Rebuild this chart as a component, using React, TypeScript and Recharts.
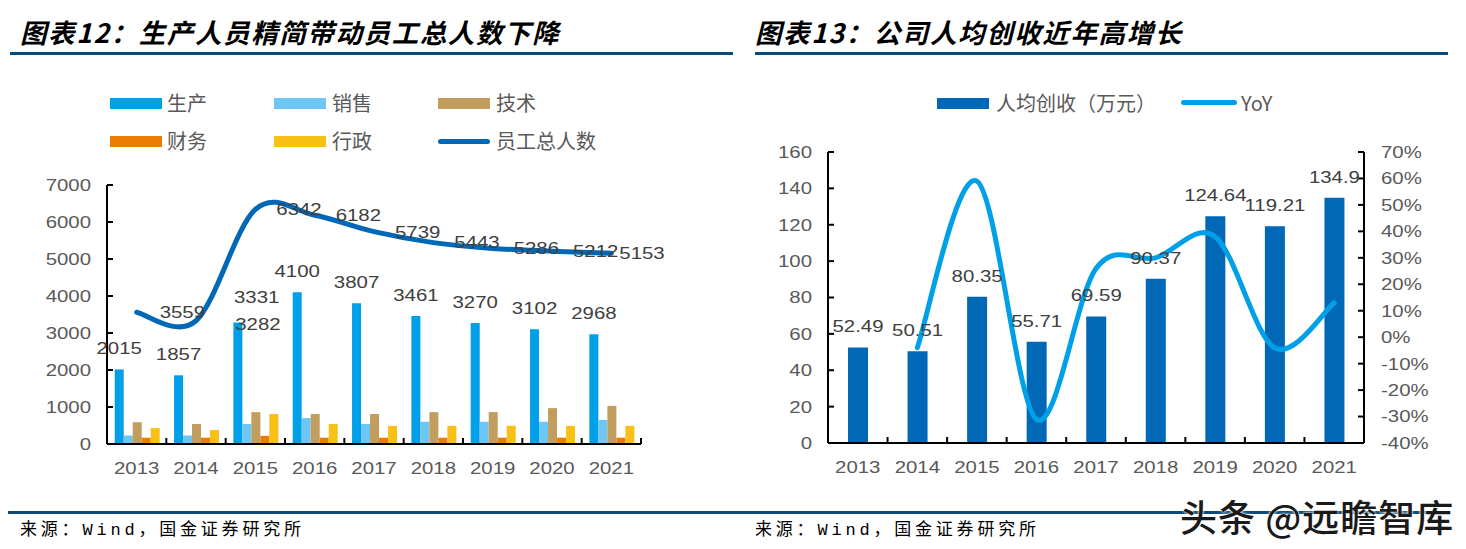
import React from "react";
import {
  ComposedChart,
  Bar,
  Line,
  XAxis,
  YAxis,
  LabelList,
} from "recharts";

// ---- data ----
const YEARS = ["2013", "2014", "2015", "2016", "2017", "2018", "2019", "2020", "2021"];

const STAFF_PROD = [2015, 1857, 3282, 4100, 3807, 3461, 3270, 3102, 2968];
const STAFF_SALES = [230, 230, 540, 700, 540, 600, 600, 600, 650];
const STAFF_TECH = [590, 540, 860, 810, 810, 860, 860, 970, 1030];
const STAFF_FIN = [170, 170, 220, 170, 170, 170, 170, 170, 170];
const STAFF_ADMIN = [430, 380, 810, 540, 490, 490, 490, 490, 490];
const STAFF_TOTAL = [3559, 3331, 6342, 6182, 5739, 5443, 5286, 5212, 5153];

const REV_PER_HEAD = [52.49, 50.51, 80.35, 55.71, 69.59, 90.37, 124.64, 119.21, 134.9];
const REV_YOY = [null, -4, 59, -31, 26, 30, 38, -4, 13];

const LEFT_TICKS = [0, 1000, 2000, 3000, 4000, 5000, 6000, 7000];
const REV_TICKS = [0, 20, 40, 60, 80, 100, 120, 140, 160];
const YOY_TICKS = [-40, -30, -20, -10, 0, 10, 20, 30, 40, 50, 60, 70];

const STAFF_SERIES = [
  { key: "prod", name: "生产", color: "#00a0e9" },
  { key: "sales", name: "销售", color: "#6ec6f5" },
  { key: "tech", name: "技术", color: "#c19d5e" },
  { key: "fin", name: "财务", color: "#ea7c04" },
  { key: "admin", name: "行政", color: "#f9c016" },
];
const TOTAL_NAME = "员工总人数";
const REV_NAME = "人均创收（万元）";
const YOY_NAME = "YoY";

const TITLE_L = "图表12：生产人员精简带动员工总人数下降";
const TITLE_R = "图表13：公司人均创收近年高增长";
const SOURCE = "来源：Wind，国金证券研究所";

// ---- style ----
const NAVY = "#0d4a78";
const DARK_BLUE = "#0068b7";
const LIGHT_BLUE = "#00a0e9";
const TICK_COLOR = "#595959";
const LABEL_COLOR = "#404040";
const CJK = "'Noto Sans CJK SC', 'Noto Sans', sans-serif";
const NUM = "'Liberation Sans', Arial, sans-serif";

// excel-ish smoothed line (cardinal bezier, 1/6 tangents)
const excelCurve = (context: any) => {
  let pts: number[][] = [];
  return {
    areaStart() {},
    areaEnd() {},
    lineStart() {
      pts = [];
    },
    point(x: number, y: number) {
      pts.push([+x, +y]);
    },
    lineEnd() {
      const n = pts.length;
      if (!n) return;
      context.moveTo(pts[0][0], pts[0][1]);
      const t = 1 / 6;
      for (let i = 0; i < n - 1; i++) {
        const p0 = pts[Math.max(0, i - 1)];
        const p1 = pts[i];
        const p2 = pts[i + 1];
        const p3 = pts[Math.min(n - 1, i + 2)];
        context.bezierCurveTo(
          p1[0] + (p2[0] - p0[0]) * t,
          p1[1] + (p2[1] - p0[1]) * t,
          p2[0] - (p3[0] - p1[0]) * t,
          p2[1] - (p3[1] - p1[1]) * t,
          p2[0],
          p2[1]
        );
      }
    },
  };
};

// numbers in the source look horizontally stretched
function WText({ x, y, children, anchor = "middle", fill = LABEL_COLOR, size = 17 }: any) {
  return (
    <text
      transform={`translate(${x},${y}) scale(1.2,1)`}
      textAnchor={anchor}
      dominantBaseline="central"
      fontFamily={NUM}
      fontSize={size}
      fill={fill}
    >
      {children}
    </text>
  );
}

function XTick(props: any) {
  const { x, y, payload, index } = props;
  const half = payload.offset ?? 30;
  return (
    <g>
      <line x1={x - half} x2={x - half} y1={y} y2={y - 6} stroke="#000" strokeWidth={2} />
      {index === YEARS.length - 1 && (
        <line x1={x + half} x2={x + half} y1={y} y2={y - 6} stroke="#000" strokeWidth={2} />
      )}
      <WText x={x} y={y + 24} fill={TICK_COLOR}>
        {payload.value}
      </WText>
    </g>
  );
}

function YTickLeft(props: any) {
  const { x, y, payload } = props;
  return (
    <g>
      <line x1={x} x2={x + 6} y1={y} y2={y} stroke="#000" strokeWidth={2} />
      <WText x={x - 16} y={y} anchor="end" fill={TICK_COLOR}>
        {payload.value}
      </WText>
    </g>
  );
}

function YTickRight(props: any) {
  const { x, y, payload } = props;
  return (
    <g>
      <line x1={x} x2={x - 6} y1={y} y2={y} stroke="#000" strokeWidth={2} />
      <WText x={x + 17} y={y} anchor="start" fill={TICK_COLOR}>
        {payload.value}%
      </WText>
    </g>
  );
}

// manual nudges for a few labels that were dragged in the source
const PROD_LABEL_NUDGE: Record<number, number[]> = { 2: [20, 23] };
const TOTAL_LABEL_NUDGE: Record<number, number[]> = { 0: [23, 0], 1: [38, -24], 8: [8, 0] };

const prodLabel = (p: any) => {
  const [dx, dy] = PROD_LABEL_NUDGE[p.index] ?? [0, 0];
  return (
    <WText key={`pl-${p.index}`} x={p.x + p.width / 2 + dx} y={p.y - 21 + dy}>
      {p.value}
    </WText>
  );
};

const totalLabel = (p: any) => {
  const [dx, dy] = TOTAL_LABEL_NUDGE[p.index] ?? [21, 0];
  return (
    <WText key={`tl-${p.index}`} x={p.x + dx} y={p.y + dy} anchor="start">
      {p.value}
    </WText>
  );
};

const revLabel = (p: any) => (
  <WText key={`rl-${p.index}`} x={p.x + p.width / 2} y={p.y - 21}>
    {p.value}
  </WText>
);

const staffData = YEARS.map((year, i) => ({
  year,
  prod: STAFF_PROD[i],
  sales: STAFF_SALES[i],
  tech: STAFF_TECH[i],
  fin: STAFF_FIN[i],
  admin: STAFF_ADMIN[i],
  total: STAFF_TOTAL[i],
}));

const revData = YEARS.map((year, i) => ({
  year,
  rev: REV_PER_HEAD[i],
  yoy: REV_YOY[i],
}));

const legendText: React.CSSProperties = {
  position: "absolute",
  fontFamily: CJK,
  fontSize: 20,
  color: TICK_COLOR,
  lineHeight: "24px",
  whiteSpace: "nowrap",
};

function BoxSwatch({ left, top, color, w = 52 }: any) {
  return <div style={{ position: "absolute", left, top, width: w, height: 11, background: color }} />;
}

function LineSwatch({ left, top, color, w = 52 }: any) {
  return (
    <div style={{ position: "absolute", left, top, width: w, height: 5, borderRadius: 3, background: color }} />
  );
}

const titleStyle: React.CSSProperties = {
  position: "absolute",
  top: 14,
  fontFamily: CJK,
  fontWeight: 700,
  fontStyle: "italic",
  fontSize: 26.5,
  letterSpacing: 1.6,
  color: "#000",
  whiteSpace: "nowrap",
  lineHeight: "36px",
};

const sourceStyle: React.CSSProperties = {
  position: "absolute",
  top: 520,
  fontFamily: `'Liberation Mono', ${CJK}`,
  fontSize: 17,
  letterSpacing: 3.8,
  color: "#000",
  whiteSpace: "nowrap",
  lineHeight: "22px",
};

function StaffChart() {
  const legendPos = [
    [110, 98, 167],
    [274, 98, 332],
    [438, 98, 496],
    [110, 136, 167],
    [274, 136, 332],
  ];
  return (
    <div style={{ position: "absolute", left: 0, top: 0, width: 733, height: 549 }}>
      {STAFF_SERIES.map((s, i) => (
        <React.Fragment key={s.key}>
          <BoxSwatch left={legendPos[i][0]} top={legendPos[i][1]} color={s.color} />
          <div style={{ ...legendText, left: legendPos[i][2], top: legendPos[i][1] - 7 }}>{s.name}</div>
        </React.Fragment>
      ))}
      <LineSwatch left={438} top={139} color={DARK_BLUE} />
      <div style={{ ...legendText, left: 496, top: 129 }}>{TOTAL_NAME}</div>

      <ComposedChart
        width={733}
        height={549}
        data={staffData}
        margin={{ top: 185, right: 92, bottom: 65, left: 0 }}
        barGap={0}
        barCategoryGap="13%"
        style={{ position: "absolute", left: 0, top: 0 }}
      >
        <XAxis
          dataKey="year"
          height={40}
          interval={0}
          tickLine={false}
          tickSize={0}
          tickMargin={0}
          axisLine={{ stroke: "#000", strokeWidth: 2 }}
          tick={<XTick />}
        />
        <YAxis
          width={107}
          domain={[0, 7000]}
          ticks={LEFT_TICKS}
          interval={0}
          tickLine={false}
          tickSize={0}
          tickMargin={0}
          axisLine={{ stroke: "#000", strokeWidth: 2 }}
          tick={<YTickLeft />}
        />
        {STAFF_SERIES.map((s) => (
          <Bar key={s.key} dataKey={s.key} name={s.name} fill={s.color} isAnimationActive={false}>
            {s.key === "prod" && <LabelList dataKey="prod" content={prodLabel} />}
          </Bar>
        ))}
        <Line
          type={excelCurve as any}
          dataKey="total"
          name={TOTAL_NAME}
          stroke={DARK_BLUE}
          strokeWidth={5}
          strokeLinecap="round"
          dot={false}
          activeDot={false}
          isAnimationActive={false}
        >
          <LabelList dataKey="total" content={totalLabel} />
        </Line>
      </ComposedChart>
    </div>
  );
}

function RevenueChart() {
  return (
    <div style={{ position: "absolute", left: 733, top: 0, width: 733, height: 549 }}>
      <BoxSwatch left={204} top={98} color={DARK_BLUE} />
      <div style={{ ...legendText, left: 263, top: 91 }}>{REV_NAME}</div>
      <LineSwatch left={448} top={100} color={LIGHT_BLUE} w={56} />
      <div style={{ ...legendText, left: 508, top: 91 }}>{YOY_NAME}</div>

      <ComposedChart
        width={733}
        height={549}
        data={revData}
        margin={{ top: 152, right: 22, bottom: 66, left: 0 }}
        style={{ position: "absolute", left: 0, top: 0 }}
      >
        <XAxis
          dataKey="year"
          height={40}
          interval={0}
          tickLine={false}
          tickSize={0}
          tickMargin={0}
          axisLine={{ stroke: "#000", strokeWidth: 2 }}
          tick={<XTick />}
        />
        <YAxis
          yAxisId="l"
          width={95}
          domain={[0, 160]}
          ticks={REV_TICKS}
          interval={0}
          tickLine={false}
          tickSize={0}
          tickMargin={0}
          axisLine={{ stroke: "#000", strokeWidth: 2 }}
          tick={<YTickLeft />}
        />
        <YAxis
          yAxisId="r"
          orientation="right"
          width={80}
          domain={[-40, 70]}
          ticks={YOY_TICKS}
          interval={0}
          tickLine={false}
          tickSize={0}
          tickMargin={0}
          axisLine={{ stroke: "#000", strokeWidth: 2 }}
          tick={<YTickRight />}
        />
        <Bar yAxisId="l" dataKey="rev" name={REV_NAME} fill={DARK_BLUE} barSize={20} isAnimationActive={false}>
          <LabelList dataKey="rev" content={revLabel} />
        </Bar>
        <Line
          yAxisId="r"
          type={excelCurve as any}
          dataKey="yoy"
          name={YOY_NAME}
          stroke={LIGHT_BLUE}
          strokeWidth={5}
          strokeLinecap="round"
          dot={false}
          activeDot={false}
          isAnimationActive={false}
        />
      </ComposedChart>
    </div>
  );
}

export default function App() {
  return (
    <div style={{ position: "relative", width: 1466, height: 549, background: "#fff", overflow: "hidden" }}>
      <style>{"body{margin:0}"}</style>
      <div style={{ ...titleStyle, left: 20 }}>{TITLE_L}</div>
      <div style={{ ...titleStyle, left: 755 }}>{TITLE_R}</div>
      <div style={{ position: "absolute", left: 10, top: 52, width: 723, height: 3, background: NAVY }} />
      <div style={{ position: "absolute", left: 755, top: 52, width: 693, height: 3, background: NAVY }} />

      <StaffChart />
      <RevenueChart />

      <div style={{ position: "absolute", left: 8, top: 511, width: 1442, height: 3, background: NAVY }} />
      <div style={{ ...sourceStyle, left: 20 }}>{SOURCE}</div>
      <div style={{ ...sourceStyle, left: 755 }}>{SOURCE}</div>
      <div
        style={{
          position: "absolute",
          left: 1180,
          top: 492,
          fontFamily: CJK,
          fontSize: 37,
          fontWeight: 500,
          letterSpacing: 1,
          color: "#1a1a1a",
          whiteSpace: "nowrap",
          lineHeight: "48px",
          textShadow: "0 0 3px #fff, 0 0 2px #fff",
        }}
      >
        头条 @远瞻智库
      </div>
    </div>
  );
}
